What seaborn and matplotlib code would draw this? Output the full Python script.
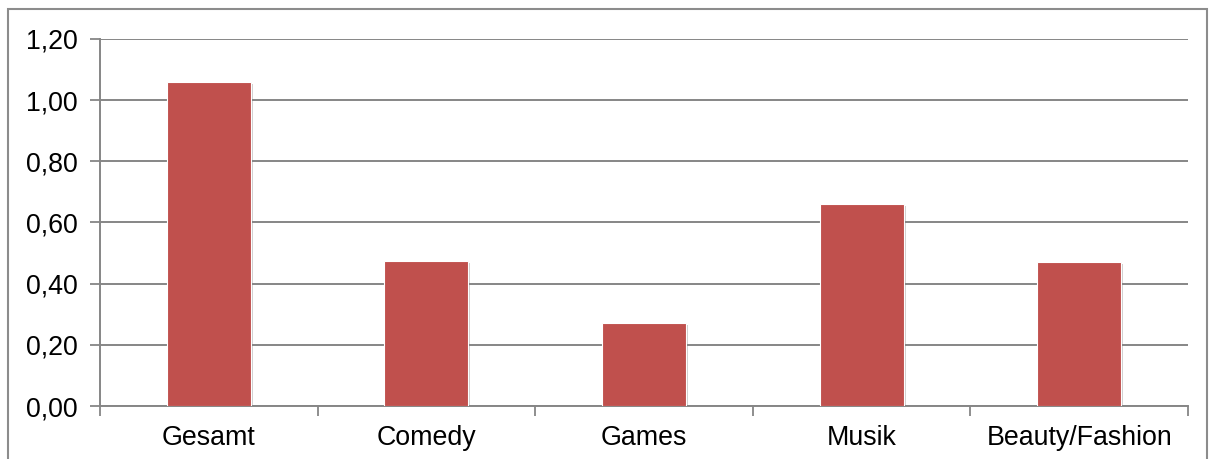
import matplotlib
matplotlib.use("Agg")
import matplotlib.pyplot as plt
import matplotlib.patheffects as pe
from matplotlib.patches import Rectangle
from matplotlib.ticker import FixedLocator, FuncFormatter
import numpy as np
import pandas as pd
import seaborn as sns

categories = ["Gesamt", "Comedy", "Games", "Musik", "Beauty/Fashion"]
values = [1.06, 0.475, 0.272, 0.66, 0.471]
y_ticks = [0.0, 0.2, 0.4, 0.6, 0.8, 1.0, 1.2]

BAR = "#C0504D"
GRID = "#868686"

sns.set_theme(style="white")
plt.rcParams["font.family"] = ["Liberation Sans", "DejaVu Sans"]

W, H = 1218, 459
fig = plt.figure(figsize=(W / 100, H / 100), dpi=100)
ax = fig.add_axes([100 / W, (H - 406) / H, (1188 - 100) / W, (406 - 39) / H])

df = pd.DataFrame({"Kategorie": categories, "Wert": values})
sns.barplot(data=df, x="Kategorie", y="Wert", color=BAR, saturation=1,
            width=0.386, ax=ax, zorder=3)

for p in ax.patches:
    p.set_edgecolor("white")
    p.set_linewidth(0.8)
    p.set_path_effects([pe.SimplePatchShadow(offset=(1.5, -1.5), shadow_rgbFace="#777777", alpha=0.35),
                        pe.Normal()])

ax.set_xlim(-0.5, len(categories) - 0.5)
ax.set_ylim(0, 1.2)
ax.set_yticks(y_ticks)
ax.yaxis.set_major_formatter(FuncFormatter(lambda v, _: f"{v:.2f}".replace(".", ",")))

# tick marks between the categories, labels centred under the bars
ax.xaxis.set_major_locator(FixedLocator(np.arange(-0.5, len(categories), 1.0)))
ax.xaxis.set_major_formatter(FuncFormatter(lambda v, _: ""))
ax.xaxis.set_minor_locator(FixedLocator(np.arange(len(categories))))
ax.set_xticklabels(categories, minor=True)
ax.tick_params(axis="x", which="major", length=7, width=1.3, color=GRID, direction="out", bottom=True)
ax.tick_params(axis="x", which="minor", length=0, pad=14, labelsize=19.3, colors="black")
ax.tick_params(axis="y", length=7, width=1.3, color=GRID, direction="out", left=True,
               pad=9, labelsize=19.3, labelcolor="black")

ax.set_xlabel("")
ax.set_ylabel("")
ax.grid(axis="y", color=GRID, linewidth=1.4, zorder=0)
ax.set_axisbelow(True)
for side in ("top", "right"):
    ax.spines[side].set_visible(False)
for side in ("left", "bottom"):
    ax.spines[side].set_color(GRID)
    ax.spines[side].set_linewidth(1.4)

# chart-area frame
fig.patches.append(Rectangle((8 / W, -0.05), (1207 - 8) / W, 1.05 - 9 / H,
                             transform=fig.transFigure, fill=False,
                             edgecolor="#8c8c8c", linewidth=1.5))

fig.savefig("out.png", dpi=100, facecolor="white")
